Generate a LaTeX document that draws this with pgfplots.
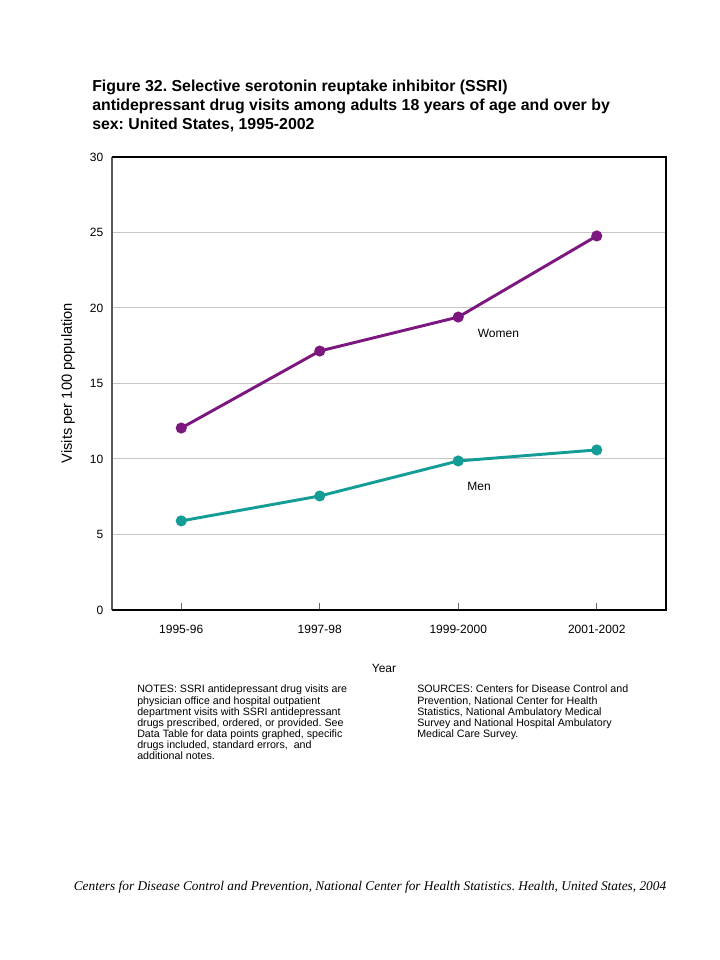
\documentclass[border=0pt]{standalone}
\usepackage{pgfplots}
\pgfplotsset{compat=1.18}
\usepackage{fontspec}
\setmainfont{Liberation Sans}
\newfontfamily\serifit{Liberation Serif}
\definecolor{women}{HTML}{7D1780}
\definecolor{men}{HTML}{149C96}
\frenchspacing
\begin{document}
\begin{tikzpicture}[x=0.75pt,y=0.75pt]
\useasboundingbox[fill=white] (0,0) rectangle (720,960);
% title
\begin{scope}[every node/.style={anchor=base west, inner sep=0pt, font=\bfseries\fontsize{11.9}{14}\selectfont}]
\node at (92,{960-92}) {Figure 32. Selective serotonin reuptake inhibitor (SSRI)};
\node at (92,{960-111}) {antidepressant drug visits among adults 18 years of age and over by};
\node at (92,{960-130}) {sex: United States, 1995-2002};
\end{scope}
\begin{axis}[
  at={(84pt,262.5pt)}, anchor=south west,
  scale only axis, width=415.5pt, height=339.75pt,
  xmin=-0.5, xmax=3.5, ymin=0, ymax=30,
  xtick={0,1,2,3},
  xticklabels={1995-96,1997-98,1999-2000,2001-2002},
  ytick={0,5,10,15,20,25,30},
  axis line style={draw=none},
  tick align=inside,
  xtick pos=bottom,
  major tick length=5pt,
  xtick style={gray!80!black, line width=0.6pt},
  ytick style={draw=none},
  ymajorgrids,
  grid style={gray!45, line width=0.75pt},
  tick label style={font=\fontsize{9}{10}\selectfont},
  /pgf/number format/assume math mode=true,
  xticklabel style={yshift=-8pt},
  yticklabel style={xshift=-3pt},
  clip=false,
]
\addplot[women, line width=2.2pt, mark=*, mark size=3pt] coordinates {
  (0,12.05) (1,17.15) (2,19.4) (3,24.77)};
\addplot[men, line width=2.2pt, mark=*, mark size=3pt] coordinates {
  (0,5.9) (1,7.55) (2,9.87) (3,10.6)};
\node[font=\fontsize{9}{10}\selectfont] at (axis cs:2.29,18.34) {Women};
\node[font=\fontsize{9}{10}\selectfont] at (axis cs:2.15,8.15) {Men};
\draw[gray!70!black, line width=0.9pt] (rel axis cs:0,0) -- (rel axis cs:0,1);
\draw[black, line width=1.4pt] (rel axis cs:0,1) -- (rel axis cs:1,1) -- (rel axis cs:1,0) -- (rel axis cs:0,0);
\end{axis}
\node[rotate=90, font=\fontsize{11}{12}\selectfont] at (68,{960-383}) {Visits per 100 population};
\node[font=\fontsize{9}{10}\selectfont] at (384,{960-668}) {Year};
\node[anchor=north west, inner sep=0pt, align=left, font=\fontsize{8}{8.35}\selectfont] at (137,{960-685}) {NOTES: SSRI antidepressant drug visits are\\
physician office and hospital outpatient\\
department visits with SSRI antidepressant\\
drugs prescribed, ordered, or provided. See\\
Data Table for data points graphed, specific\\
drugs included, standard errors,~ and\\
additional notes.};
\node[anchor=north west, inner sep=0pt, align=left, font=\fontsize{8}{8.35}\selectfont] at (417,{960-685}) {SOURCES: Centers for Disease Control and\\
Prevention, National Center for Health\\
Statistics, National Ambulatory Medical\\
Survey and National Hospital Ambulatory\\
Medical Care Survey.};
\node[anchor=base, inner sep=0pt, font=\serifit\itshape\fontsize{10}{11}\selectfont] at (370,{960-891}) {Centers for Disease Control and Prevention, National Center for Health Statistics. Health, United States, 2004};
\end{tikzpicture}
\end{document}
